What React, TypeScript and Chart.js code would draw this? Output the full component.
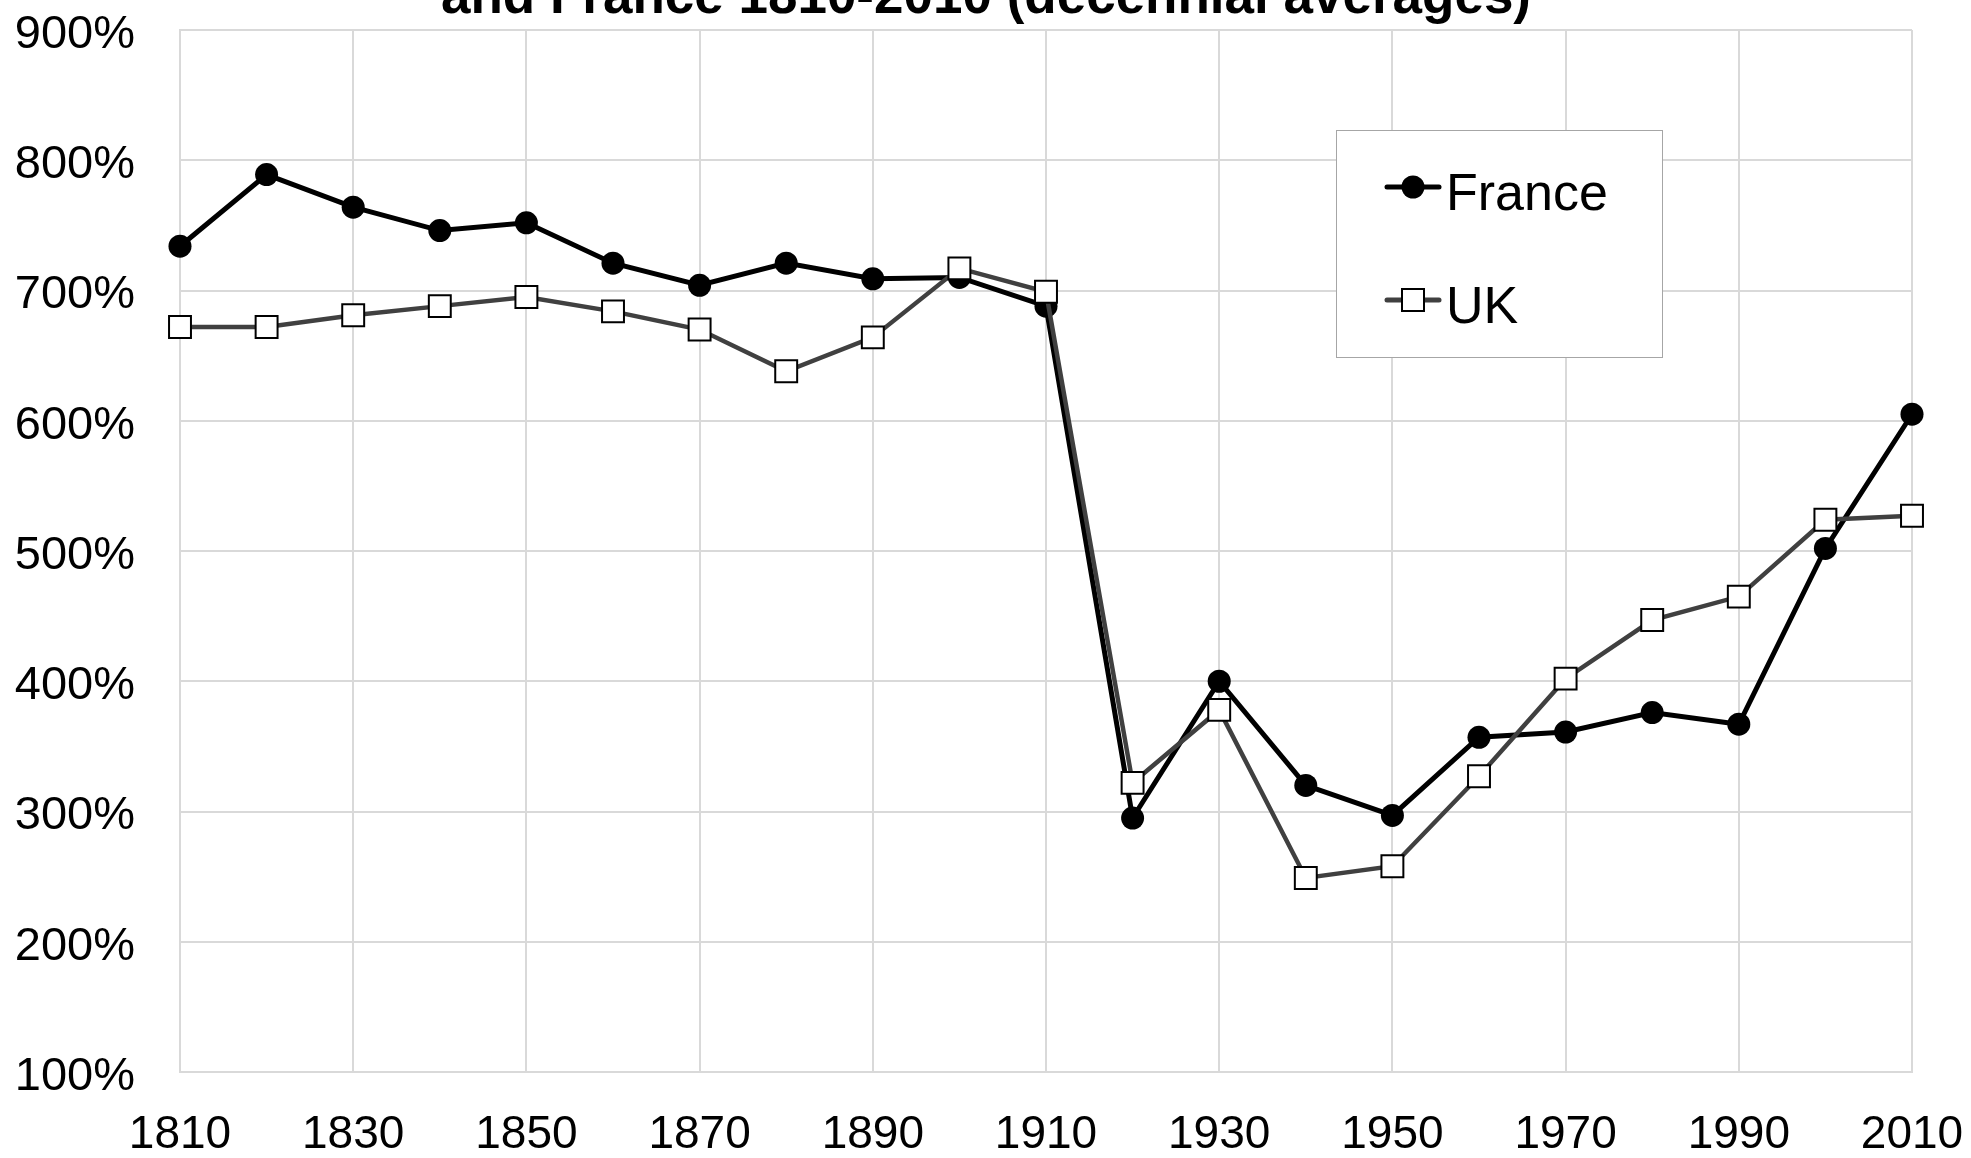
import React, { useEffect, useRef } from "react";
import { Chart, registerables } from "chart.js";

Chart.register(...registerables);

const years = [1810, 1820, 1830, 1840, 1850, 1860, 1870, 1880, 1890, 1900, 1910, 1920, 1930, 1940, 1950, 1960, 1970, 1980, 1990, 2000, 2010];
const france = [734, 789, 764, 746, 752, 721, 704, 721, 709, 710, 688, 295, 400, 320, 297, 357, 361, 376, 367, 502, 605];
const uk = [672, 672, 681, 688, 695, 684, 670, 638, 664, 717, 699, 322, 378, 249, 258, 327, 402, 447, 465, 524, 527];
const titleText = "and France 1810-2010 (decennial averages)";
const seriesNames = ["France", "UK"];
const yTicksMin = 100;
const yTicksMax = 900;

const FONT = "'Liberation Sans', Arial, sans-serif";

const overlayPlugin = {
  id: "overlay",
  afterDraw(chart: any) {
    const ctx = chart.ctx as CanvasRenderingContext2D;
    ctx.save();
    // Title (cut off at top)
    ctx.fillStyle = "#000";
    ctx.font = `bold 53px ${FONT}`;
    ctx.textAlign = "center";
    ctx.textBaseline = "alphabetic";
    ctx.fillText(titleText, 986, 13);

    // Legend box
    const bx = 1336, by = 130, bw = 326, bh = 227;
    ctx.fillStyle = "#fff";
    ctx.fillRect(bx, by, bw, bh);
    ctx.strokeStyle = "#a6a6a6";
    ctx.lineWidth = 1;
    ctx.strokeRect(bx + 0.5, by + 0.5, bw, bh);

    // France entry
    const r1 = 187;
    ctx.strokeStyle = "#000";
    ctx.lineWidth = 5;
    ctx.lineCap = "round";
    ctx.beginPath();
    ctx.moveTo(1387, r1);
    ctx.lineTo(1439, r1);
    ctx.stroke();
    ctx.fillStyle = "#000";
    ctx.beginPath();
    ctx.arc(1413, r1, 11.5, 0, Math.PI * 2);
    ctx.fill();

    // UK entry
    const r2 = 300;
    ctx.strokeStyle = "#404040";
    ctx.lineWidth = 5;
    ctx.beginPath();
    ctx.moveTo(1387, r2);
    ctx.lineTo(1439, r2);
    ctx.stroke();
    ctx.fillStyle = "#fff";
    ctx.fillRect(1402, r2 - 11, 22, 22);
    ctx.strokeStyle = "#000";
    ctx.lineWidth = 2;
    ctx.strokeRect(1402, r2 - 11, 22, 22);

    ctx.fillStyle = "#000";
    ctx.font = `52px ${FONT}`;
    ctx.textAlign = "left";
    ctx.textBaseline = "alphabetic";
    ctx.fillText(seriesNames[0], 1446, 210);
    ctx.fillText(seriesNames[1], 1446, 323);
    ctx.restore();
  },
};

function zeroPad(s: any) {
  s.paddingTop = 0;
  s.paddingBottom = 0;
  s.paddingLeft = 0;
  s.paddingRight = 0;
}

export default function App() {
  const ref = useRef<HTMLCanvasElement | null>(null);
  useEffect(() => {
    if (!ref.current) return;
    const chart = new Chart(ref.current, {
      type: "line",
      data: {
        datasets: [
          {
            label: seriesNames[0],
            data: years.map((y, i) => ({ x: y, y: france[i] })),
            borderColor: "#000",
            borderWidth: 5,
            pointStyle: "circle",
            pointRadius: 11.5,
            pointBackgroundColor: "#000",
            pointBorderColor: "#000",
            pointBorderWidth: 0,
            tension: 0,
            clip: false,
            order: 2,
          } as any,
          {
            label: seriesNames[1],
            data: years.map((y, i) => ({ x: y, y: uk[i] })),
            borderColor: "#404040",
            borderWidth: 4.5,
            pointStyle: "rect",
            pointRadius: 15.5,
            pointBackgroundColor: "#fff",
            pointBorderColor: "#000",
            pointBorderWidth: 2,
            tension: 0,
            clip: false,
            order: 1,
          } as any,
        ],
      },
      options: {
        responsive: false,
        animation: false,
        devicePixelRatio: 1,
        layout: { padding: { left: 0, right: 59, top: 30, bottom: 0 } },
        plugins: {
          legend: { display: false },
          title: { display: false },
          tooltip: { enabled: false },
        },
        scales: {
          x: {
            type: "linear",
            min: 1810,
            max: 2010,
            afterFit: (s: any) => { s.height = 86; zeroPad(s); },
            grid: { color: "#d9d9d9", lineWidth: 2, drawTicks: false },
            border: { color: "#d9d9d9", width: 2 },
            ticks: {
              stepSize: 20,
              padding: 36,
              color: "#000",
              font: { family: FONT, size: 46 },
              maxRotation: 0,
              callback: (v: any) => String(v),
            },
          },
          y: {
            min: yTicksMin,
            max: yTicksMax,
            afterFit: (s: any) => { s.width = 180; zeroPad(s); },
            grid: { color: "#d9d9d9", lineWidth: 2, drawTicks: false },
            border: { color: "#d9d9d9", width: 2 },
            ticks: {
              stepSize: 100,
              padding: 45,
              labelOffset: 5,
              color: "#000",
              font: { family: FONT, size: 47 },
              callback: (v: any) => `${v}%`,
            },
          },
        },
      },
      plugins: [overlayPlugin],
    });
    return () => chart.destroy();
  }, []);
  return (
    <div style={{ position: "absolute", left: 0, top: 0, width: 1971, height: 1158, background: "#fff" }}>
      <canvas ref={ref} width={1971} height={1158} style={{ display: "block" }} />
    </div>
  );
}
